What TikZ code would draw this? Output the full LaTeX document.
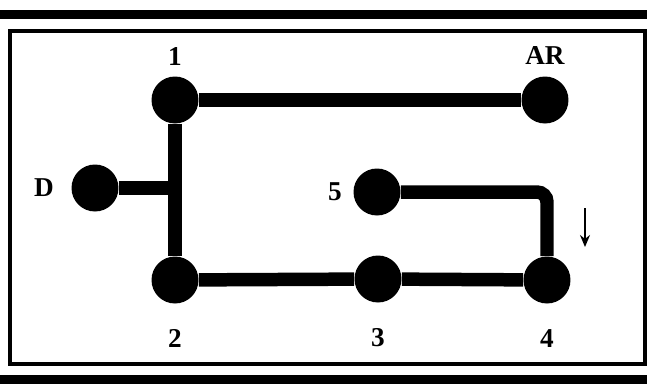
\documentclass[tikz,border=0pt]{standalone}
\usepackage{fontspec}
\setmainfont{Liberation Serif}
\usetikzlibrary{arrows.meta}
\tikzset{
  stop/.style={circle,fill=black,minimum size=0.94cm,inner sep=0pt},
  stoplabel/.style={font=\fontsize{15.5}{17}\selectfont\bfseries,inner sep=0pt},
  track/.style={line width=0.27cm,draw=black},
  frameline/.style={line width=0.07cm},
  barline/.style={line width=0.18cm},
  dirarrow/.style={-{Stealth[length=2.4mm,width=2.0mm]},line width=0.8pt},
}
\begin{document}
\begin{tikzpicture}[x=0.02cm,y=-0.02cm]
  \useasboundingbox (0,0) rectangle (647,383);
  % page rules and frame
  \draw[barline] (0,14) -- (647,14);
  \draw[barline] (0,379) -- (647,379);
  \draw[frameline] (10,31) rectangle (645,364);
  % stops
  \node[stop,label={[stoplabel,label distance=2mm]above:1}] (n1) at (175,100) {};
  \node[stop,label={[stoplabel,label distance=2.2mm]above:AR}] (nAR) at (545,100) {};
  \node[stop,label={[stoplabel,label distance=3.4mm]left:D}] (nD) at (95,188) {};
  \node[stop,label={[stoplabel,label distance=2.2mm]left:5}] (n5) at (377,192) {};
  \node[stop,label={[stoplabel,label distance=5mm]below:2}] (n2) at (175,280) {};
  \node[stop,label={[stoplabel,label distance=5mm]below:3}] (n3) at (378,279) {};
  \node[stop,label={[stoplabel,label distance=5mm]below:4}] (n4) at (547,280) {};
  \coordinate (tee) at (n1 |- nD);
  \coordinate (dirtop) at (585,208);
  \coordinate (dirbot) at (585,247);
  % tracks
  \draw[track] (n1) -- (nAR);
  \draw[track] (n1) -- (n2);
  \draw[track] (nD) -- (tee);
  \draw[track] (n2) -- (n3);
  \draw[track] (n3) -- (n4);
  \draw[track,rounded corners=2mm] (n5) -| (n4);
  \draw[dirarrow] (dirtop) -- (dirbot);
\end{tikzpicture}
\end{document}
